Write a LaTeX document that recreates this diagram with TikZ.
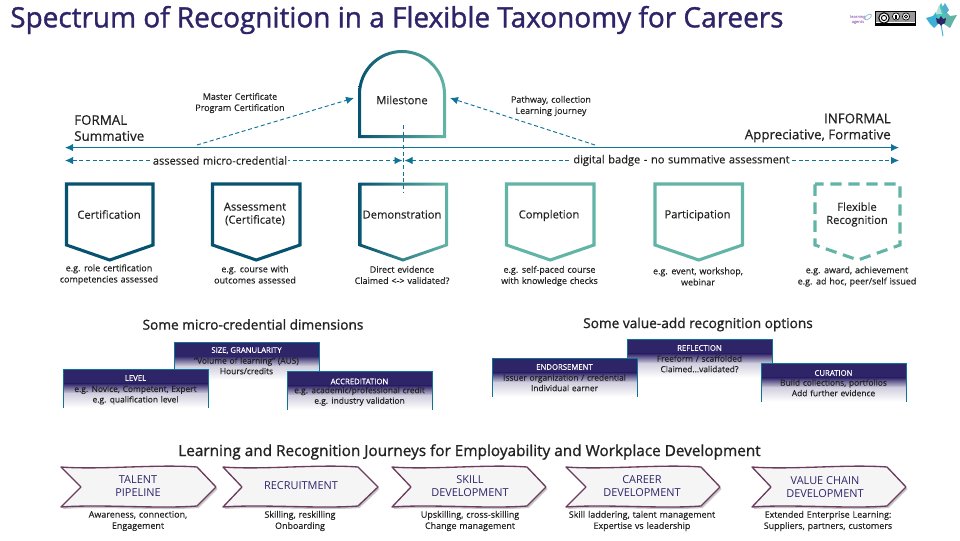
\documentclass[tikz,border=0pt]{standalone}
\usepackage{fontspec}
\setmainfont{Open Sans}[WordSpace=1.25,FakeBold=0.15]
\newfontfamily\plainf{Open Sans}
\newfontfamily\titlef{Open Sans}[FakeBold=1.3]
\newfontfamily\semif{Open Sans}[FakeBold=1.1]
\newfontfamily\medf{Open Sans}[FakeBold=0.45]
\usetikzlibrary{arrows.meta,shadings}
\definecolor{navy}{HTML}{2E2468}
\definecolor{deep}{HTML}{07536F}
\definecolor{teal}{HTML}{62B5A6}
\definecolor{arrowblue}{HTML}{0F7398}
\definecolor{ink}{HTML}{222222}
\definecolor{maroon}{HTML}{6C3C5E}
\definecolor{chevfill}{HTML}{F5F5F6}
\definecolor{chevtext}{HTML}{2E2468}
\tikzset{
  mainline/.style={draw=arrowblue,line width=.75pt,{Latex[length=6pt,width=5.5pt]}-{Latex[length=6pt,width=5.5pt]}},
  dashline/.style={draw=arrowblue,line width=.7pt,dash pattern=on 3pt off 2pt,{Latex[length=6pt,width=5.5pt]}-{Latex[length=6pt,width=5.5pt]}},
  dashto/.style={draw=arrowblue,line width=.7pt,dash pattern=on 3pt off 2pt,-{Latex[length=6pt,width=5.5pt]}},
  dashplain/.style={draw=arrowblue,line width=.7pt,dash pattern=on 3pt off 2pt},
  small/.style={font=\fontsize{6.7}{8.4}\selectfont,text=ink,align=center,inner sep=0pt},
  boxlabel/.style={font=\fontsize{8.4}{9.8}\selectfont,text=ink,align=center,inner sep=0pt},
  axislabel/.style={font=\fontsize{8.3}{10}\selectfont,text=ink,fill=white,inner sep=1pt,align=center},
  endlabel/.style={font=\medf\fontsize{10}{12}\selectfont,text=ink,inner sep=0pt},
  heading/.style={font=\semif\fontsize{10.25}{12}\selectfont,text=ink,inner sep=0pt},
  cardtitle/.style={font=\medf\fontsize{5.8}{7}\selectfont,text=white,inner sep=0pt},
  cardtext/.style={font=\fontsize{6.3}{7.9}\selectfont,text=ink,align=center,inner sep=0pt},
  chevlabel/.style={font=\plainf\fontsize{8.2}{9.8}\selectfont,text=chevtext,align=center,inner sep=0pt},
  penta/.style={line width=2.3pt,miter limit=10,fill=white},
}
% solid pentagon: x-left, x-right, colour
\newcommand{\penta}[3]{%
  \draw[penta,draw=#3] (#1,184) -- (#2,184) -- (#2,245) -- ({(#1+#2)/2},260) -- (#1,245) -- cycle;}
% credential card
\newcommand{\card}[7]{% name,x,y,title,text,title-y-offset,text-offset
  \fill[white] (#2,#3) rectangle ({#2+145},{#3+39});
  \fill[navy] (#2,#3) rectangle ({#2+145},{#3+14});
  \shade[top color=navy,bottom color=navy!22] (#2,{#3+14}) rectangle ({#2+145},{#3+24});
  \shade[top color=navy!22,bottom color=white] (#2,{#3+24}) rectangle ({#2+145},{#3+38});
  \draw[arrowblue,line width=.6pt] (#2,{#3+38}) -- (#2,#3) -- ({#2+145},#3) -- ({#2+145},{#3+38});
  \node[cardtitle] (#1t) at ({#2+72.5},{#3+#6}) {#4};
  \node[cardtext,anchor=north] (#1) at ({#2+72.5},{#3+#7}) {#5};}
% chevron
\newcommand{\chev}[5]{% left,notch,shoulder,tip,name
  \begin{scope}[shift={(1.5,2)}]
  \fill[black!22] (#1,467) .. controls ({#1+40},470) and ({#3-40},464) .. (#3,467) -- (#4,487) -- (#3,506) .. controls ({#3-40},509) and ({#1+40},504) .. (#1,507) -- (#2,487) -- cycle;
  \end{scope}
  \draw[maroon,line width=1pt,fill=chevfill,line join=round] (#1,467) .. controls ({#1+40},470) and ({#3-40},464) .. (#3,467) -- (#4,487) -- (#3,506) .. controls ({#3-40},509) and ({#1+40},504) .. (#1,507) -- (#2,487) -- cycle;
  \coordinate (#5) at ({(#1+#4)/2},487);}
\begin{document}
\begin{tikzpicture}[x=.75pt,y=-.75pt]
\useasboundingbox (0,0) rectangle (960,540);
\fill[white] (0,0) rectangle (960,540);

% title
\node[anchor=west,inner sep=0pt,text=navy,font=\titlef\fontsize{20.95}{24}\selectfont] (title) at (10,20) {Spectrum of Recognition in a Flexible Taxonomy for Careers};

% logos
\node[inner sep=0pt,text=navy!70!magenta,align=center,font=\plainf\fontsize{3}{3.4}\selectfont] (la) at (858,20) {learning\\agents};
\draw[arrowblue!50,line width=.5pt,rotate around={35:(868,17)}] (868,17) ellipse (4 and 2);
\fill[black] (875,11) rectangle (916,26);
\fill[black!40] (876,12) rectangle (915,21.5);
\fill[white] (876,22) rectangle (915,22.5);
\draw[black,fill=white,line width=.8pt] (884,18) circle (5.2);
\draw[black,line width=.7pt] (884,18) circle (2.6);
\draw[black,fill=white,line width=.5pt] (896,16.5) circle (3.6);
\fill[black] (895,14.5) rectangle (897,19);
\draw[black,fill=white,line width=.5pt] (906,16.5) circle (3.6);
\draw[black,line width=.6pt] (906,16.5) circle (1.6);
% maple leaf
\fill[teal!75!cyan] (941,3) -- (945,11) -- (947,22) -- (935,22) -- (937,11) -- cycle;
\fill[cyan!60!teal] (926,18) -- (933,16) -- (936,12) -- (938,24) -- (934,28) -- (930,24) -- cycle;
\fill[teal] (957,15) -- (950,16) -- (946,12) -- (944,24) -- (950,28) -- (953,22) -- cycle;
\fill[teal!45] (939,5) -- (942,14) -- (936,14) -- cycle;
\fill[cyan!45!teal] (945,3) -- (949,10) -- (945,15) -- (942,8) -- cycle;
\draw[cyan!60!teal,line width=.7pt] (941,24) -- (943,36);
\fill[navy] (941,16) -- (943,19) -- (946,18) -- (945,23) -- (942,24.5) -- (941,26) -- (940,24.5) -- (937,23) -- (936,18) -- (939,19) -- cycle;

% Milestone
\shade[left color=deep,right color=teal,even odd rule]
  (358,138) -- (358,94) arc[start angle=180,end angle=360,radius=44] -- (446,138) -- cycle
  (361,135) -- (443,135) -- (443,94) arc[start angle=360,end angle=180,radius=41] -- cycle;
\node[boxlabel] (ms) at (402,100) {Milestone};
\coordinate (msL) at (354,98);
\coordinate (msR) at (450,98);

% axis
\coordinate (axL) at (65,147.6);
\coordinate (axR) at (899,147.6);
\coordinate (dsL) at (65,160.5);
\coordinate (dsM) at (402.5,160.5);
\coordinate (dsN) at (404.5,160.5);
\coordinate (dsR) at (899,160.5);
\draw[mainline] (axL) -- (axR);
\coordinate (certStart) at (197,145);
\coordinate (pathStart) at (595,145);
\draw[dashto] (certStart) -- (msL);
\draw[dashto] (pathStart) -- (msR);
\draw[dashline] (dsL) -- (dsM);
\draw[dashline] (dsN) -- (dsR);
\node[axislabel] (amc) at (220,160.5) {assessed micro-credential};
\node[axislabel] (dbn) at (681.5,160.5) {digital badge - no summative assessment};
\node[small] (mcpc) at (240,103) {Master Certificate\\Program Certification};
\node[small] (pclj) at (551,106) {Pathway, collection\\Learning journey};
\node[endlabel,anchor=west,align=left] (formal) at (74,128) {FORMAL\\Summative};
\node[endlabel,anchor=east,align=right] (informal) at (891,128) {INFORMAL\\Appreciative, Formative};

% pentagons
\penta{66.5}{153}{deep}
\penta{212.5}{300}{deep}
\shade[left color=deep,right color=teal,even odd rule]
  (358.5,182.5) -- (448,182.5) -- (448,246) -- (403,261.5) -- (358.5,246) -- cycle
  (361.5,185.5) -- (361.5,244) -- (403,258.5) -- (445,244) -- (445,185.5) -- cycle;
\penta{506.5}{594}{teal}
\penta{655}{742.5}{teal}
\draw[line width=2.3pt,draw=teal,dash pattern=on 8.5pt off 5pt,dash phase=2pt] (815,184) -- (900,184) -- (900,245) -- (858,260) -- (815,245) -- cycle;

\coordinate (vtop) at (403,125);
\coordinate (vbot) at (403,192);
\draw[dashplain] (vtop) -- (vbot);

\node[boxlabel] (n1) at (109,214.5) {Certification};
\node[boxlabel] (n2) at (255,214) {Assessment\\(Certificate)};
\node[boxlabel] (n3) at (402,214.5) {Demonstration};
\node[boxlabel] (n4) at (549,215.5) {Completion};
\node[boxlabel] (n5) at (697.5,215.5) {Participation};
\node[boxlabel] (n6) at (857,214.5) {Flexible\\Recognition};

\node[small] (c1) at (109,274.5) {e.g. role certification\\competencies assessed};
\node[small] (c2) at (255,274.5) {e.g. course with\\outcomes assessed};
\node[small] (c3) at (402,275) {Direct evidence\\Claimed <-> validated?};
\node[small] (c4) at (549.5,276) {e.g. self-paced course\\with knowledge checks};
\node[small] (c5) at (698,276.5) {e.g. event, workshop,\\webinar};
\node[small] (c6) at (857,276.5) {e.g. award, achievement\\e.g. ad hoc, peer/self issued};

% headings
\node[heading] (h1) at (253,324.5) {Some micro-credential dimensions};
\node[heading] (h2) at (698,324.5) {Some value-add recognition options};

% cards
\card{size}{174}{342}{SIZE, GRANULARITY}{"Volume of learning" (AUS)\\Hours/credits}{8.5}{15}
\card{level}{63}{369.5}{LEVEL}{e.g. Novice, Competent, Expert\\e.g. qualification level}{8.5}{16}
\card{accr}{287}{371.5}{ACCREDITATION}{e.g. academic/professional credit\\e.g. industry validation}{10}{15}
\card{refl}{627}{339.5}{REFLECTION}{Freeform / scaffolded\\Claimed...validated?}{8.5}{15.5}
\card{endo}{492}{358.5}{ENDORSEMENT}{Issuer organization / credential\\Individual earner}{8.5}{15.5}
\card{cura}{761}{363.5}{CURATION}{Build collections, portfolios\\Add further evidence}{9.5}{15.5}

% journeys
\node[font=\semif\fontsize{11.5}{13}\selectfont,text=ink,inner sep=0pt] (h3) at (469.5,452) {Learning and Recognition Journeys for Employability and Workplace Development};

\chev{61}{81}{197}{216}{j1}
\chev{223}{242}{358}{378}{j2}
\chev{392}{411}{527}{546}{j3}
\chev{566}{586}{701}{720}{j4}
\chev{752}{771}{887}{906}{j5}

\node[chevlabel] (t1) at (138,486.5) {TALENT\\PIPELINE};
\node[chevlabel] (t2) at (301,486) {RECRUITMENT};
\node[chevlabel] (t3) at (470,486.5) {SKILL\\DEVELOPMENT};
\node[chevlabel] (t4) at (642,486.5) {CAREER\\DEVELOPMENT};
\node[chevlabel] (t5) at (825,487.5) {VALUE CHAIN\\DEVELOPMENT};

\node[small] (d1) at (138,521) {Awareness, connection,\\Engagement};
\node[small] (d2) at (300,521) {Skilling, reskilling\\Onboarding};
\node[small] (d3) at (470,521) {Upskilling, cross-skilling\\Change management};
\node[small] (d4) at (642,521) {Skill laddering, talent management\\Expertise vs leadership};
\node[small] (d5) at (828,521) {Extended Enterprise Learning:\\Suppliers, partners, customers};
\end{tikzpicture}
\end{document}
